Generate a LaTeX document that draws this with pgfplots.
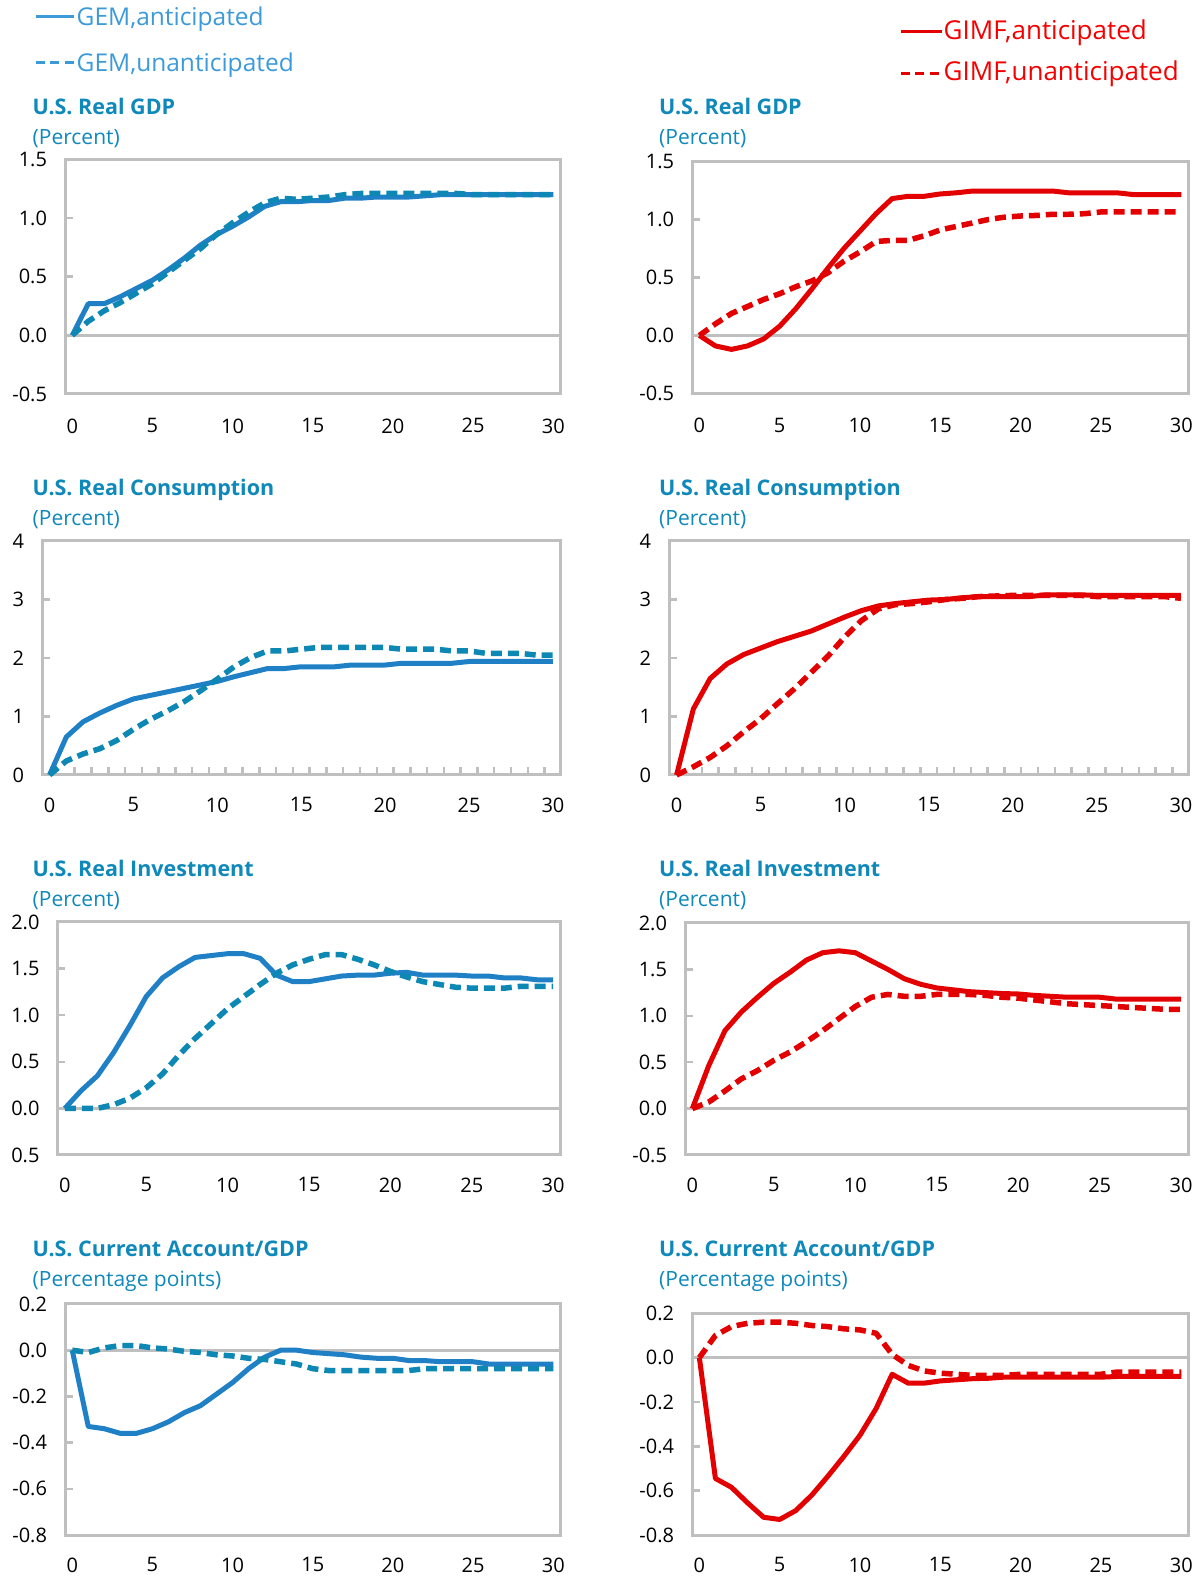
\documentclass[border=0pt]{standalone}
\usepackage{fontspec}
\setmainfont{Open Sans}
\usepackage{pgfplots}
\pgfplotsset{compat=1.18}
\usepackage{pgfplotstable}

\definecolor{boxgray}{HTML}{BFBFBF}
\definecolor{gemsolid}{HTML}{2080C6}
\definecolor{gemdash}{HTML}{0D87B3}
\definecolor{gimf}{HTML}{E20000}
\definecolor{titleblue}{HTML}{0F88BA}
\definecolor{gemlegend}{HTML}{3C9AD8}
\definecolor{gimflegend}{HTML}{F50000}

% x  anticipated  unanticipated
\pgfplotstableread{
x a u
0 0 0
1 0.27 0.12
2 0.27 0.21
3 0.33 0.28
4 0.40 0.36
5 0.47 0.44
6 0.56 0.54
7 0.66 0.64
8 0.77 0.74
9 0.86 0.86
10 0.93 0.96
11 1.01 1.05
12 1.10 1.13
13 1.14 1.17
14 1.14 1.16
15 1.15 1.17
16 1.15 1.18
17 1.17 1.20
18 1.17 1.21
19 1.18 1.21
20 1.18 1.21
21 1.18 1.21
22 1.19 1.21
23 1.20 1.21
24 1.20 1.21
25 1.20 1.20
26 1.20 1.20
27 1.20 1.20
28 1.20 1.20
29 1.20 1.20
30 1.20 1.20
}\gemgdp

\pgfplotstableread{
x a u
0 0 0
1 -0.09 0.10
2 -0.12 0.19
3 -0.09 0.25
4 -0.03 0.31
5 0.08 0.36
6 0.23 0.42
7 0.40 0.47
8 0.58 0.54
9 0.75 0.64
10 0.90 0.72
11 1.05 0.81
12 1.18 0.82
13 1.20 0.82
14 1.20 0.86
15 1.22 0.91
16 1.23 0.94
17 1.245 0.97
18 1.245 1.00
19 1.245 1.02
20 1.245 1.03
21 1.245 1.035
22 1.245 1.045
23 1.23 1.045
24 1.23 1.05
25 1.23 1.065
26 1.23 1.065
27 1.215 1.065
28 1.215 1.065
29 1.215 1.065
30 1.215 1.065
}\gimfgdp

\pgfplotstableread{
x a u
0 0 0
1 0.65 0.24
2 0.91 0.36
3 1.06 0.45
4 1.19 0.59
5 1.30 0.78
6 1.36 0.95
7 1.42 1.09
8 1.48 1.25
9 1.54 1.44
10 1.60 1.64
11 1.68 1.85
12 1.75 2.01
13 1.82 2.12
14 1.82 2.12
15 1.85 2.15
16 1.85 2.18
17 1.85 2.18
18 1.88 2.18
19 1.88 2.18
20 1.88 2.18
21 1.91 2.15
22 1.91 2.15
23 1.91 2.15
24 1.91 2.12
25 1.94 2.12
26 1.94 2.08
27 1.94 2.08
28 1.94 2.08
29 1.94 2.05
30 1.94 2.05
}\gemcons

\pgfplotstableread{
x a u
0 0 0
1 1.13 0.14
2 1.65 0.30
3 1.90 0.50
4 2.06 0.74
5 2.17 0.96
6 2.28 1.22
7 2.37 1.47
8 2.46 1.75
9 2.58 2.03
10 2.70 2.36
11 2.81 2.64
12 2.89 2.84
13 2.93 2.91
14 2.96 2.93
15 2.99 2.96
16 3.00 3.00
17 3.03 3.02
18 3.05 3.05
19 3.05 3.06
20 3.05 3.07
21 3.05 3.07
22 3.08 3.07
23 3.08 3.07
24 3.08 3.07
25 3.07 3.05
26 3.07 3.05
27 3.07 3.05
28 3.07 3.05
29 3.07 3.05
30 3.07 3.02
}\gimfcons

\pgfplotstableread{
x a u
0 0 0
1 0.19 0.0
2 0.35 0.0
3 0.60 0.04
4 0.89 0.11
5 1.20 0.22
6 1.40 0.37
7 1.52 0.57
8 1.62 0.75
9 1.64 0.91
10 1.66 1.07
11 1.66 1.20
12 1.61 1.33
13 1.43 1.45
14 1.36 1.54
15 1.36 1.60
16 1.39 1.65
17 1.42 1.65
18 1.43 1.60
19 1.43 1.54
20 1.45 1.47
21 1.46 1.41
22 1.43 1.36
23 1.43 1.33
24 1.43 1.30
25 1.42 1.29
26 1.42 1.29
27 1.40 1.29
28 1.40 1.31
29 1.38 1.31
30 1.38 1.31
}\geminv

\pgfplotstableread{
x a u
0 0 0
1 0.46 0.07
2 0.84 0.19
3 1.04 0.32
4 1.20 0.41
5 1.35 0.52
6 1.47 0.61
7 1.60 0.72
8 1.68 0.84
9 1.70 0.97
10 1.68 1.10
11 1.59 1.20
12 1.50 1.23
13 1.40 1.21
14 1.34 1.21
15 1.30 1.23
16 1.28 1.23
17 1.26 1.23
18 1.25 1.22
19 1.24 1.20
20 1.235 1.19
21 1.22 1.17
22 1.21 1.15
23 1.20 1.13
24 1.20 1.12
25 1.20 1.11
26 1.18 1.10
27 1.18 1.09
28 1.18 1.08
29 1.18 1.07
30 1.18 1.07
}\gimfinv

\pgfplotstableread{
x a u
0 0 0
1 -0.33 -0.01
2 -0.34 0.01
3 -0.36 0.02
4 -0.36 0.02
5 -0.34 0.01
6 -0.31 0.005
7 -0.27 -0.005
8 -0.24 -0.01
9 -0.19 -0.02
10 -0.14 -0.025
11 -0.08 -0.035
12 -0.03 -0.04
13 0.00 -0.05
14 0.00 -0.06
15 -0.01 -0.08
16 -0.015 -0.088
17 -0.02 -0.088
18 -0.03 -0.088
19 -0.035 -0.088
20 -0.035 -0.088
21 -0.045 -0.088
22 -0.045 -0.08
23 -0.05 -0.08
24 -0.05 -0.08
25 -0.05 -0.08
26 -0.06 -0.08
27 -0.06 -0.08
28 -0.06 -0.08
29 -0.06 -0.08
30 -0.06 -0.08
}\gemca

\pgfplotstableread{
x a u
0 0 0
1 -0.545 0.10
2 -0.585 0.14
3 -0.655 0.155
4 -0.72 0.16
5 -0.73 0.16
6 -0.69 0.155
7 -0.62 0.145
8 -0.535 0.14
9 -0.445 0.13
10 -0.35 0.125
11 -0.23 0.11
12 -0.075 0.015
13 -0.115 -0.035
14 -0.115 -0.06
15 -0.105 -0.07
16 -0.10 -0.075
17 -0.095 -0.08
18 -0.093 -0.08
19 -0.088 -0.08
20 -0.088 -0.075
21 -0.088 -0.075
22 -0.088 -0.075
23 -0.088 -0.075
24 -0.088 -0.075
25 -0.088 -0.075
26 -0.085 -0.065
27 -0.085 -0.065
28 -0.085 -0.065
29 -0.085 -0.065
30 -0.085 -0.065
}\gimfca

\pgfplotsset{
  panel/.style={
    scale only axis,
    anchor=south west,
    xmin=-0.42, xmax=30.42,
    clip=false,
    axis line style={draw=boxgray, line width=3pt},
    tick align=inside,
    tick pos=left,
    xtick={0,5,...,30},
    xticklabels={0,5,10,15,20,25,30},
    major x tick style={draw=none},
    major y tick style={draw=boxgray, line width=2.5pt},
    major tick length=7pt,
    tick label style={font=\fontsize{20}{24}\selectfont, text=black},
    yticklabel style={xshift=-15pt},
    xticklabel style={yshift=-19pt},
  },
  constick/.style={
    minor xtick={1.5,2.5,...,29.5},
    minor x tick style={draw=boxgray, line width=2.5pt},
    minor tick length=8pt,
  },
  gemA/.style={draw=gemsolid, line width=5pt, line join=round, mark=none},
  gemU/.style={draw=gemdash, line width=5.5pt, line join=round, dash pattern=on 11pt off 6pt, mark=none},
  gimfA/.style={draw=gimf, line width=5pt, line join=round, mark=none},
  gimfU/.style={draw=gimf, line width=5.5pt, line join=round, dash pattern=on 11pt off 6pt, mark=none},
  zeroline/.style={draw=boxgray, line width=3pt, mark=none, forget plot},
}

\newcommand{\ttl}[3]{\node[anchor=base west, inner sep=0pt, text=titleblue, font=\fontsize{21.5}{24}\selectfont\bfseries] at (#1,#2) {#3};}
\newcommand{\sub}[3]{\node[anchor=base west, inner sep=0pt, text=titleblue, font=\fontsize{21}{24}\selectfont] at (#1,#2) {#3};}

\begin{document}
\begin{tikzpicture}

% ---- Left GDP
\begin{axis}[panel, at={(65.5pt,1187pt)}, width=494.5pt, height=234.5pt,
  ymin=-0.5, ymax=1.5, ytick={-0.5,0,0.5,1,1.5}, yticklabels={-0.5,0.0,0.5,1.0,1.5},
  xticklabel style={yshift=-2pt}]
\addplot[zeroline] coordinates {(-0.42,0) (30.42,0)};
\addplot[gemA] table[x=x,y=a] {\gemgdp};
\addplot[gemU] table[x=x,y=u] {\gemgdp};
\end{axis}

% ---- Right GDP
\begin{axis}[panel, at={(692.6pt,1187.5pt)}, width=495.4pt, height=232pt,
  ymin=-0.5, ymax=1.5, ytick={-0.5,0,0.5,1,1.5}, yticklabels={-0.5,0.0,0.5,1.0,1.5},
  xticklabel style={yshift=-2pt}]
\addplot[zeroline] coordinates {(-0.42,0) (30.42,0)};
\addplot[gimfA] table[x=x,y=a] {\gimfgdp};
\addplot[gimfU] table[x=x,y=u] {\gimfgdp};
\end{axis}

% ---- Left consumption
\begin{axis}[panel, constick, at={(42.5pt,806pt)}, width=517.5pt, height=234pt,
  ymin=0, ymax=4, ytick={0,1,2,3,4}, yticklabels={0,1,2,3,4}]
\addplot[gemA] table[x=x,y=a] {\gemcons};
\addplot[gemU] table[x=x,y=u] {\gemcons};
\end{axis}

% ---- Right consumption
\begin{axis}[panel, constick, at={(669.5pt,806pt)}, width=518.5pt, height=234pt,
  ymin=0, ymax=4, ytick={0,1,2,3,4}, yticklabels={0,1,2,3,4}]
\addplot[gimfA] table[x=x,y=a] {\gimfcons};
\addplot[gimfU] table[x=x,y=u] {\gimfcons};
\end{axis}

% ---- Left investment
\begin{axis}[panel, at={(58pt,426pt)}, width=502pt, height=233pt,
  ymin=-0.5, ymax=2, ytick={-0.5,0,0.5,1,1.5,2}, yticklabels={0.5,0.0,0.5,1.0,1.5,2.0}]
\addplot[zeroline] coordinates {(-0.42,0) (30.42,0)};
\addplot[gemA] table[x=x,y=a] {\geminv};
\addplot[gemU] table[x=x,y=u] {\geminv};
\end{axis}

% ---- Right investment
\begin{axis}[panel, at={(685.5pt,426pt)}, width=502.5pt, height=232pt,
  ymin=-0.5, ymax=2, ytick={-0.5,0,0.5,1,1.5,2}, yticklabels={-0.5,0.0,0.5,1.0,1.5,2.0}]
\addplot[zeroline] coordinates {(-0.42,0) (30.42,0)};
\addplot[gimfA] table[x=x,y=a] {\gimfinv};
\addplot[gimfU] table[x=x,y=u] {\gimfinv};
\end{axis}

% ---- Left current account
\begin{axis}[panel, at={(65.5pt,46pt)}, width=494.5pt, height=231pt,
  ymin=-0.8, ymax=0.2, ytick={-0.8,-0.6,-0.4,-0.2,0,0.2}, yticklabels={-0.8,-0.6,-0.4,-0.2,0.0,0.2}]
\addplot[zeroline] coordinates {(-0.42,0) (30.42,0)};
\addplot[gemA] table[x=x,y=a] {\gemca};
\addplot[gemU] table[x=x,y=u] {\gemca};
\end{axis}

% ---- Right current account
\begin{axis}[panel, at={(692.6pt,46pt)}, width=495.4pt, height=221.7pt,
  ymin=-0.8, ymax=0.2, ytick={-0.8,-0.6,-0.4,-0.2,0,0.2}, yticklabels={-0.8,-0.6,-0.4,-0.2,0.0,0.2}]
\addplot[zeroline] coordinates {(-0.42,0) (30.42,0)};
\addplot[gimfA] table[x=x,y=a] {\gimfca};
\addplot[gimfU] table[x=x,y=u] {\gimfca};
\end{axis}

\begin{scope}[x=1pt,y=1pt]
% legends
\draw[gemlegend, line width=3pt] (35.5,1564.3) -- (74,1564.3);
\node[anchor=base west, inner sep=0pt, text=gemlegend, font=\fontsize{24.5}{28}\selectfont] at (76.5,1555) {GEM,anticipated};
\draw[gemlegend, line width=3pt, dash pattern=on 9pt off 5.5pt] (35.5,1518.3) -- (74,1518.3);
\node[anchor=base west, inner sep=0pt, text=gemlegend, font=\fontsize{24.5}{28}\selectfont] at (76.5,1509.3) {GEM,unanticipated};
\draw[gimf, line width=3pt] (900.5,1549.3) -- (941.5,1549.3);
\node[anchor=base west, inner sep=0pt, text=gimflegend, font=\fontsize{26}{30}\selectfont] at (943.5,1541.7) {GIMF,anticipated};
\draw[gimf, line width=3pt, dash pattern=on 9pt off 5.5pt] (900.5,1507.7) -- (941.5,1507.7);
\node[anchor=base west, inner sep=0pt, text=gimflegend, font=\fontsize{26}{30}\selectfont] at (943.5,1500) {GIMF,unanticipated};

% titles
\ttl{32.5}{1466}{U.S. Real GDP}
\sub{32.5}{1436}{(Percent)}
\ttl{659}{1466}{U.S. Real GDP}
\sub{659}{1436}{(Percent)}
\ttl{32.5}{1085}{U.S. Real Consumption}
\sub{32.5}{1055}{(Percent)}
\ttl{659}{1085}{U.S. Real Consumption}
\sub{659}{1055}{(Percent)}
\ttl{32.5}{704.5}{U.S. Real Investment}
\sub{32.5}{674.5}{(Percent)}
\ttl{659}{704.5}{U.S. Real Investment}
\sub{659}{674.5}{(Percent)}
\ttl{32.5}{324}{U.S. Current Account/GDP}
\sub{32.5}{294}{(Percentage points)}
\ttl{659}{324}{U.S. Current Account/GDP}
\sub{659}{294}{(Percentage points)}

\path (0,0) rectangle (1201,1581);
\end{scope}
\end{tikzpicture}
\end{document}
